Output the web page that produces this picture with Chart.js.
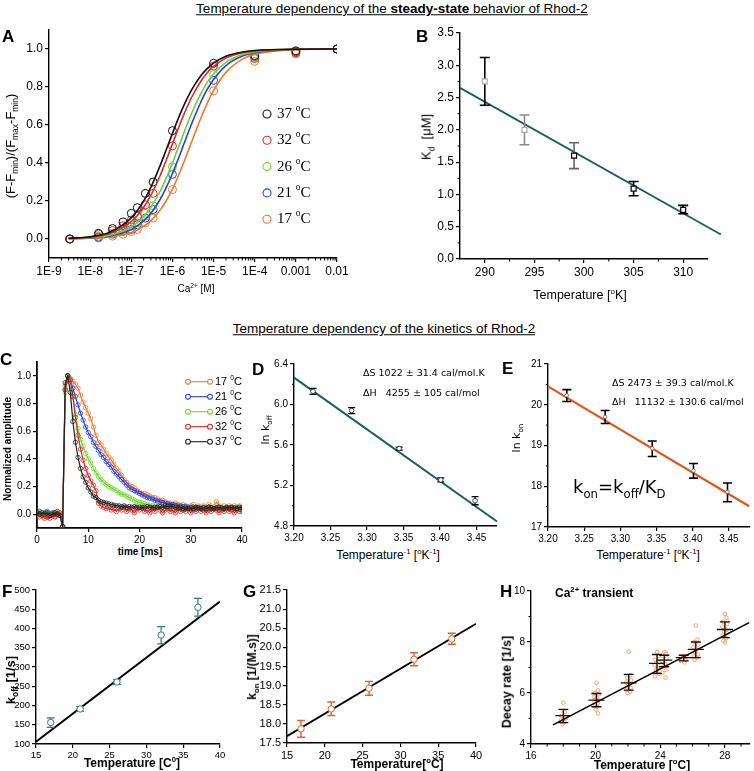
<!DOCTYPE html>
<html>
<head>
<meta charset="utf-8">
<script src="https://cdn.jsdelivr.net/npm/chart.js@4.4.0/dist/chart.umd.min.js"></script>
<style>
body { margin: 0; width: 754px; height: 771px; overflow: hidden; background: #fff; position: relative; font-family: "Liberation Sans", Arial, sans-serif; }
canvas { position: absolute; }
.t { position: absolute; white-space: nowrap; color: #000; line-height: 1; }
.c { transform: translate(-50%, -50%); }
.r { transform: translate(-50%, -50%) rotate(-90deg); }
.l { transform: translate(0, -50%); }
.lbl { font-weight: bold; font-size: 17px; }
sup, sub { font-size: 65%; line-height: 0; }
.cm { font-family: "DejaVu Sans", sans-serif; }
</style>
</head>
<body>
<script>
// ---------- data ----------

// A: steady-state titration
const tempsA = ['37', '32', '26', '21', '17']
const colorsA = ['#111111', '#e3262a', '#6fd12e', '#2a3fe0', '#f0782a']
const caConc = [3.2e-9, 1.6e-8, 3.5e-8, 6.3e-8, 1e-7, 1.4e-7, 2.2e-7, 3.4e-7, 1e-6, 1e-5, 1e-4, 1e-3, 1e-2]
const respA37 = [0.00, 0.03, 0.055, 0.09, 0.135, 0.165, 0.24, 0.30, 0.57, 0.925, 0.965, 0.99, 1.0]
const respA32 = [0.00, 0.025, 0.045, 0.07, 0.10, 0.12, 0.18, 0.24, 0.49, 0.91, 0.95, 0.98, 1.0]
const respA26 = [0.00, 0.015, 0.03, 0.05, 0.07, 0.085, 0.135, 0.175, 0.38, 0.865, 0.955, 0.99, 1.0]
const respA21 = [0.00, 0.01, 0.025, 0.04, 0.05, 0.075, 0.11, 0.155, 0.34, 0.835, 0.96, 0.985, 1.0]
const respA17 = [0.00, 0.005, 0.015, 0.025, 0.04, 0.05, 0.085, 0.11, 0.26, 0.78, 0.935, 0.975, 1.0]
const fitConc = [3e-9, 1e-8, 3e-8, 1e-7, 2e-7, 3e-7, 5e-7, 7e-7, 1e-6, 1.5e-6, 2e-6, 3e-6, 5e-6, 7e-6, 1e-5, 2e-5, 5e-5, 1e-4, 1e-3, 1e-2]
const fitA37 = [0.004, 0.012, 0.036, 0.111, 0.200, 0.273, 0.385, 0.467, 0.556, 0.652, 0.714, 0.789, 0.862, 0.897, 0.926, 0.962, 0.984, 0.992, 0.999, 1.0]
const fitA32 = [0.003, 0.010, 0.029, 0.091, 0.167, 0.231, 0.333, 0.412, 0.500, 0.600, 0.667, 0.750, 0.833, 0.875, 0.909, 0.952, 0.980, 0.990, 0.999, 1.0]
const fitA26 = [0.002, 0.007, 0.020, 0.063, 0.118, 0.167, 0.250, 0.318, 0.400, 0.500, 0.571, 0.667, 0.769, 0.824, 0.870, 0.930, 0.971, 0.985, 0.998, 1.0]
const fitA21 = [0.002, 0.005, 0.016, 0.050, 0.095, 0.136, 0.208, 0.269, 0.345, 0.441, 0.513, 0.612, 0.725, 0.787, 0.840, 0.913, 0.963, 0.981, 0.998, 1.0]
const fitA17 = [0.001, 0.004, 0.011, 0.034, 0.067, 0.097, 0.152, 0.200, 0.263, 0.349, 0.417, 0.517, 0.641, 0.714, 0.781, 0.877, 0.947, 0.973, 0.997, 1.0]
const ticksAx = [1e-9, 1e-8, 1e-7, 1e-6, 1e-5, 1e-4, 1e-3, 1e-2]
const labelsAx = ['1E-9', '1E-8', '1E-7', '1E-6', '1E-5', '1E-4', '0.001', '0.01']
const ticksAy = [0, 0.2, 0.4, 0.6, 0.8, 1.0]
const labelsAy = ['0.0', '0.2', '0.4', '0.6', '0.8', '1.0']

// B: Kd vs temperature
const kdTemp = [290, 294, 299, 305, 310]
const kdVal = [2.75, 2.0, 1.6, 1.09, 0.76]
const kdLo = [2.38, 1.77, 1.40, 0.98, 0.70]
const kdHi = [3.12, 2.23, 1.80, 1.20, 0.83]
const kdBarShade = ['#000000', '#8a8a8a', '#666666', '#000000', '#000000']
const kdBoxShade = ['#aaaaaa', '#aaaaaa', '#000000', '#000000', '#000000']
const kdFitT = [287.5, 313.8]
const kdFitV = [2.65, 0.38]
const ticksBx = [290, 295, 300, 305, 310]
const ticksBy = [0, 0.5, 1.0, 1.5, 2.0, 2.5, 3.0, 3.5]
const labelsBy = ['0.0', '0.5', '1.0', '1.5', '2.0', '2.5', '3.0', '3.5']

// C: normalized transients
const tempsC = ['17', '21', '26', '32', '37']
const colorsC = ['#f07a30', '#2a40e6', '#66dd22', '#e02424', '#222222']
const timeMs = [
  0, 0.5, 1, 1.5, 2, 2.5, 3, 3.5, 4, 4.5,
  5, 5.5, 6, 6.5, 7, 7.5, 8, 8.5, 9, 9.5,
  10, 10.5, 11, 11.5, 12, 12.5, 13, 13.5, 14, 14.5,
  15, 15.5, 16, 16.5, 17, 17.5, 18, 18.5, 19, 19.5,
  20, 20.5, 21, 21.5, 22, 22.5, 23, 23.5, 24, 24.5,
  25, 25.5, 26, 26.5, 27, 27.5, 28, 28.5, 29, 29.5,
  30, 30.5, 31, 31.5, 32, 32.5, 33, 33.5, 34, 34.5,
  35, 35.5, 36, 36.5, 37, 37.5, 38, 38.5, 39, 39.5,
  40]
const decay17 = [
  0.00, 0.01, -0.01, 0.00, -0.02, -0.01, 0.01, -0.02, 0.02, 0.00,
  -0.09, 0.92, 1.00, 0.98, 0.96, 0.94, 0.91, 0.86, 0.81, 0.77,
  0.73, 0.69, 0.63, 0.57, 0.52, 0.50, 0.47, 0.44, 0.41, 0.39,
  0.36, 0.33, 0.31, 0.28, 0.25, 0.23, 0.21, 0.20, 0.19, 0.17,
  0.16, 0.15, 0.15, 0.14, 0.13, 0.12, 0.12, 0.11, 0.10, 0.10,
  0.09, 0.08, 0.08, 0.07, 0.08, 0.07, 0.06, 0.07, 0.06, 0.05,
  0.06, 0.07, 0.05, 0.06, 0.05, 0.06, 0.05, 0.07, 0.06, 0.05,
  0.09, 0.06, 0.05, 0.06, 0.05, 0.06, 0.05, 0.06, 0.05, 0.06,
  0.05]
const decay21 = [
  0.01, 0.02, 0.00, 0.01, 0.02, 0.00, 0.01, 0.01, 0.00, -0.01,
  -0.09, 0.90, 1.00, 0.97, 0.91, 0.85, 0.79, 0.73, 0.68, 0.63,
  0.59, 0.56, 0.52, 0.49, 0.46, 0.43, 0.41, 0.38, 0.36, 0.34,
  0.31, 0.29, 0.27, 0.25, 0.23, 0.21, 0.19, 0.18, 0.17, 0.16,
  0.15, 0.14, 0.13, 0.12, 0.115, 0.11, 0.10, 0.095, 0.09, 0.085,
  0.08, 0.075, 0.07, 0.07, 0.065, 0.06, 0.06, 0.055, 0.055, 0.05,
  0.05, 0.05, 0.045, 0.05, 0.045, 0.05, 0.045, 0.05, 0.045, 0.04,
  0.045, 0.05, 0.045, 0.04, 0.045, 0.04, 0.045, 0.04, 0.045, 0.04,
  0.04]
const decay26 = [
  0.00, 0.01, 0.00, 0.00, 0.01, -0.01, 0.00, 0.01, -0.01, 0.00,
  -0.09, 0.88, 1.00, 0.97, 0.85, 0.72, 0.62, 0.54, 0.49, 0.44,
  0.40, 0.37, 0.33, 0.30, 0.27, 0.25, 0.23, 0.215, 0.20, 0.19,
  0.18, 0.17, 0.155, 0.145, 0.14, 0.13, 0.12, 0.11, 0.10, 0.09,
  0.085, 0.08, 0.075, 0.07, 0.065, 0.06, 0.06, 0.055, 0.05, 0.05,
  0.045, 0.05, 0.045, 0.04, 0.045, 0.04, 0.045, 0.04, 0.035, 0.04,
  0.045, 0.04, 0.035, 0.04, 0.045, 0.04, 0.035, 0.04, 0.04, 0.035,
  0.04, 0.045, 0.04, 0.035, 0.04, 0.035, 0.04, 0.04, 0.035, 0.04,
  0.04]
const decay32 = [
  0.00, -0.02, -0.01, -0.03, -0.02, -0.03, -0.01, -0.02, 0.02, 0.01,
  -0.09, 0.90, 1.00, 0.97, 0.85, 0.70, 0.57, 0.47, 0.39, 0.33,
  0.28, 0.24, 0.21, 0.17, 0.08, 0.06, 0.05, 0.04, 0.05, 0.03,
  0.04, 0.02, 0.04, 0.03, 0.05, 0.02, 0.04, 0.03, 0.01, 0.04,
  0.03, 0.05, 0.02, 0.03, 0.01, 0.04, 0.02, 0.05, 0.03, 0.01,
  0.03, 0.04, 0.02, 0.03, 0.01, 0.04, 0.02, 0.03, 0.02, 0.04,
  0.01, 0.03, 0.02, 0.04, 0.02, 0.03, 0.01, 0.03, 0.02, 0.04,
  0.03, 0.01, 0.03, 0.02, 0.04, 0.02, 0.03, 0.01, 0.03, 0.02,
  0.02]
const decay37 = [
  0.01, 0.00, 0.01, 0.00, 0.01, -0.01, 0.00, 0.01, 0.00, -0.01,
  -0.09, 0.95, 1.00, 0.88, 0.67, 0.52, 0.41, 0.33, 0.27, 0.23,
  0.19, 0.16, 0.13, 0.12, 0.10, 0.09, 0.085, 0.08, 0.075, 0.07,
  0.065, 0.06, 0.06, 0.055, 0.06, 0.05, 0.055, 0.05, 0.055, 0.05,
  0.05, 0.045, 0.05, 0.055, 0.05, 0.045, 0.05, 0.05, 0.055, 0.05,
  0.06, 0.055, 0.06, 0.055, 0.05, 0.045, 0.05, 0.04, 0.045, 0.04,
  0.045, 0.04, 0.05, 0.045, 0.04, 0.045, 0.04, 0.05, 0.045, 0.04,
  0.045, 0.05, 0.045, 0.04, 0.05, 0.045, 0.05, 0.045, 0.04, 0.05,
  0.045]
const ticksCx = [0, 10, 20, 30, 40]
const ticksCy = [0, 0.2, 0.4, 0.6, 0.8, 1.0]

// D / E: Arrhenius (1000/T)
const invT = [3.226, 3.279, 3.344, 3.401, 3.448]
const lnKoff = [6.13, 5.94, 5.565, 5.255, 5.05]
const lnKoffLo = [6.10, 5.91, 5.55, 5.235, 5.01]
const lnKoffHi = [6.16, 5.97, 5.58, 5.275, 5.09]
const koffFitX = [3.20, 3.478]
const koffFitY = [6.265, 4.845]
const lnKon = [20.23, 19.70, 18.93, 18.38, 17.86]
const lnKonLo = [20.08, 19.54, 18.73, 18.20, 17.62]
const lnKonHi = [20.37, 19.86, 19.11, 18.56, 18.08]
const konFitX = [3.20, 3.478]
const konFitY = [20.45, 17.51]
const ticksInvT = [3.20, 3.25, 3.30, 3.35, 3.40, 3.45]
const labelsInvT = ['3.20', '3.25', '3.30', '3.35', '3.40', '3.45']
const ticksDy = [4.8, 5.2, 5.6, 6.0, 6.4]
const labelsDy = ['4.8', '5.2', '5.6', '6.0', '6.4']
const ticksEy = [17, 18, 19, 20, 21]

// F / G: rates vs temperature (Celsius)
const tempC = [17, 21, 26, 32, 37]
const koff = [156, 191, 261, 383, 455]
const koffLo = [143, 185, 255, 360, 432]
const koffHi = [168, 197, 267, 405, 478]
const koffLinX = [15, 40]
const koffLinY = [106, 470]
const tempCg = [16.85, 20.85, 25.85, 31.8, 36.8]
const kon = [17.87, 18.39, 18.93, 19.69, 20.22]
const konLo = [17.65, 18.22, 18.75, 19.52, 20.08]
const konHi = [18.09, 18.57, 19.11, 19.86, 20.37]
const konLinX = [15, 40]
const konLinY = [17.68, 20.62]
const ticksFGx = [15, 20, 25, 30, 35, 40]
const ticksFy = [100, 150, 200, 250, 300, 350, 400, 450, 500]
const ticksGy = [17.5, 18.0, 18.5, 19.0, 19.5, 20.0, 20.5, 21.0, 21.5]
const labelsGy = ['17.5', '18.0', '18.5', '19.0', '19.5', '20.0', '20.5', '21.0', '21.5']

// H: cellular Ca2+ transient decay
const hGroupT = [18, 20.05, 22.05, 23.8, 24.25, 25.45, 26.2, 28.0]
const hMean = [5.11, 5.72, 6.40, 7.16, 7.29, 7.39, 7.71, 8.49]
const hSdLo = [4.84, 5.46, 6.11, 6.77, 7.03, 7.26, 7.39, 8.17]
const hSdHi = [5.36, 5.98, 6.73, 7.51, 7.48, 7.48, 8.00, 8.79]
const hDots = [
  [5.62, 5.25, 5.1, 5.0, 4.92, 4.85, 4.78, 5.05],
  [6.4, 6.1, 6.0, 5.95, 5.85, 5.8, 5.75, 5.7, 5.65, 5.6, 5.5, 5.45, 5.35, 5.2],
  [7.62, 6.7, 6.6, 6.5, 6.42, 6.35, 6.3, 6.2, 6.12, 6.05, 6.0],
  [7.6, 7.45, 7.3, 7.2, 7.1, 7.0, 6.9, 6.75, 6.65],
  [7.6, 7.55, 7.45, 7.35, 7.25, 7.15, 7.05, 6.9, 6.8, 6.6],
  [7.45, 7.4, 7.35, 7.3, 7.25, 7.2],
  [8.65, 8.1, 8.0, 7.9, 7.8, 7.7, 7.6, 7.5, 7.45, 7.4, 7.3],
  [9.1, 8.95, 8.8, 8.7, 8.6, 8.5, 8.4, 8.35, 8.25, 8.15, 8.05, 7.98]
]
const hJitter = [0, 0.1, -0.1, 0.15, -0.15, 0.05, -0.05, 0.12, -0.12, 0.08, -0.08, 0.02, -0.02, 0.1]
const hLinX = [17.36, 29.5]
const hLinY = [4.75, 8.76]
const ticksHx = [16, 20, 24, 28]
const ticksHy = [4, 6, 8, 10]

// ---------- helpers ----------
const SANS = '"Liberation Sans", Arial, sans-serif'
const SERIF = '"Liberation Serif", "Times New Roman", serif'

function drawRich(ctx, str, x, y, size, family) {
    ctx.textBaseline = 'middle'
    ctx.textAlign = 'left'
    str.split(/(\^\{[^}]*\})/).forEach(part => {
        if (!part) return
        let s = size, dy = 0, t = part
        if (part.startsWith('^{')) { t = part.slice(2, -1); s = size * 0.62; dy = -size * 0.36 }
        ctx.font = s + 'px ' + family
        ctx.fillText(t, x, y + dy)
        x += ctx.measureText(t).width
    })
}

const errorBars = {
    id: 'errorBars',
    beforeDatasetDraw(chart, args) {
        const ds = chart.data.datasets[args.index]
        if (!ds.errLo) return
        const ctx = chart.ctx, xs = chart.scales.x, ys = chart.scales.y
        ctx.save()
        ctx.lineWidth = ds.errWidth || 1
        ds.data.forEach((p, i) => {
            const x = xs.getPixelForValue(p.x)
            const lo = ys.getPixelForValue(ds.errLo[i])
            const hi = ys.getPixelForValue(ds.errHi[i])
            ctx.strokeStyle = Array.isArray(ds.errColor) ? ds.errColor[i] : ds.errColor
            ctx.beginPath()
            ctx.moveTo(x, lo); ctx.lineTo(x, hi)
            ctx.moveTo(x - ds.cap, lo); ctx.lineTo(x + ds.cap, lo)
            ctx.moveTo(x - ds.cap, hi); ctx.lineTo(x + ds.cap, hi)
            if (ds.meanHalf) {
                const m = ys.getPixelForValue(p.y)
                ctx.moveTo(x - ds.meanHalf, m); ctx.lineTo(x + ds.meanHalf, m)
            }
            ctx.stroke()
        })
        ctx.restore()
    }
}

const minorTicks = {
    id: 'minorTicks',
    afterDraw(chart, args, o) {
        if (!o.x && !o.y) return
        const ctx = chart.ctx, a = chart.chartArea, len = o.len || 2.5
        ctx.save()
        ctx.strokeStyle = '#000'
        ctx.lineWidth = 1
        ctx.beginPath()
        ;(o.x || []).forEach(v => {
            const x = chart.scales.x.getPixelForValue(v)
            ctx.moveTo(x, a.bottom); ctx.lineTo(x, a.bottom + len)
        })
        ;(o.y || []).forEach(v => {
            const y = chart.scales.y.getPixelForValue(v)
            ctx.moveTo(a.left, y); ctx.lineTo(a.left - len, y)
        })
        ctx.stroke()
        ctx.restore()
    }
}

// legend drawn at page positions
const symLegend = {
    id: 'symLegend',
    afterDraw(chart, args, o) {
        if (!o.labels) return
        const ctx = chart.ctx
        const ox = parseFloat(chart.canvas.style.left), oy = parseFloat(chart.canvas.style.top)
        o.labels.forEach((lab, i) => {
            const y = o.y + i * o.dy - oy
            const x = o.x - ox
            ctx.save()
            ctx.strokeStyle = o.colors[i]
            ctx.lineWidth = 1.1
            ctx.beginPath()
            if (o.line) {
                ctx.moveTo(x, y); ctx.lineTo(x + o.line, y); ctx.stroke()
                ctx.beginPath(); ctx.arc(x, y, o.r, 0, Math.PI * 2); ctx.fillStyle = '#fff'; ctx.fill(); ctx.stroke()
                ctx.beginPath(); ctx.arc(x + o.line, y, o.r, 0, Math.PI * 2); ctx.fill(); ctx.stroke()
            } else {
                ctx.arc(x, y, o.r, 0, Math.PI * 2); ctx.stroke()
            }
            ctx.fillStyle = '#000'
            drawRich(ctx, lab, o.tx - ox, y, o.size, o.family)
            ctx.restore()
        })
    }
}

function pts(xs, ys) { return xs.map((x, i) => ({ x: x, y: ys[i] })) }

function axis(type, min, max, ticks, labels, size, bw) {
    return {
        type: type, min: min, max: max,
        afterBuildTicks: s => { s.ticks = ticks.map(v => ({ value: v })) },
        ticks: { callback: (v, i) => labels[i], font: { size: size, family: SANS }, color: '#000', padding: 2, autoSkip: false, maxRotation: 0 },
        grid: { drawOnChartArea: false, tickLength: 4, color: '#000', lineWidth: 1.2 },
        border: { color: '#000', width: bw || 1.4 }
    }
}

function panel(area, pad, cfg) {
    const cv = document.createElement('canvas')
    const w = area.r - area.l + pad.l + pad.r
    const h = area.b - area.t + pad.t + pad.b
    cv.width = w
    cv.height = h
    Object.assign(cv.style, { left: (area.l - pad.l) + 'px', top: (area.t - pad.t) + 'px', width: w + 'px', height: h + 'px' })
    document.body.appendChild(cv)
    cfg.type = 'scatter'
    cfg.plugins = [errorBars, minorTicks, symLegend]
    const o = cfg.options
    o.responsive = false
    o.animation = false
    o.events = []
    o.layout = { padding: { top: pad.t, right: pad.r, left: 0, bottom: 0 } }
    o.plugins = Object.assign({ legend: { display: false }, tooltip: { enabled: false } }, o.plugins)
    o.scales.x.afterFit = s => { s.height = pad.b }
    o.scales.y.afterFit = s => { s.width = pad.l }
    return new Chart(cv, cfg)
}

function txt(html, x, y, cls, style) {
    const d = document.createElement('div')
    d.className = 't ' + cls
    d.innerHTML = html
    d.style.left = x + 'px'
    d.style.top = y + 'px'
    if (style) d.style.cssText += style
    document.body.appendChild(d)
}

// ---------- A ----------
const fitSetsA = [fitA37, fitA32, fitA26, fitA21, fitA17]
const respSetsA = [respA37, respA32, respA26, respA21, respA17]
const minorLog = []
for (let d = -9; d < -2; d++) for (let m = 2; m < 10; m++) minorLog.push(m * Math.pow(10, d))

panel({ l: 49, t: 30, r: 337, b: 258 }, { l: 45, t: 12, r: 18, b: 26 }, {
    data: {
        datasets: [
            ...tempsA.map((t, k) => ({ data: pts(fitConc, fitSetsA[k]), showLine: true, borderColor: colorsA[k], borderWidth: 1.6, pointRadius: 0, cubicInterpolationMode: 'monotone' })),
            ...tempsA.map((t, k) => ({ data: pts(caConc, respSetsA[k]), pointRadius: 4, pointBorderWidth: 1, pointBorderColor: colorsA[k], pointBackgroundColor: 'rgba(0,0,0,0)' }))
        ]
    },
    options: {
        scales: {
            x: axis('logarithmic', 1e-9, 1e-2, ticksAx, labelsAx, 12),
            y: axis('linear', -0.1, 1.1, ticksAy, labelsAy, 12)
        },
        plugins: {
            minorTicks: { x: minorLog, len: 2.5 },
            symLegend: { labels: tempsA.map(t => t + ' ^{o}C'), colors: colorsA, x: 267, tx: 277, y: 114, dy: 26.3, r: 4, size: 15, family: SERIF }
        }
    }
})

// ---------- B ----------
panel({ l: 460, t: 33, r: 708, b: 259 }, { l: 40, t: 12, r: 30, b: 24 }, {
    data: {
        datasets: [
            { data: pts(kdTemp, kdVal), errLo: kdLo, errHi: kdHi, errColor: kdBarShade, errWidth: 1.6, cap: 5, pointStyle: 'rect', pointRadius: 3.5, pointBorderWidth: 1.2, pointBorderColor: kdBoxShade, pointBackgroundColor: '#fff' },
            { data: pts(kdFitT, kdFitV), showLine: true, borderColor: '#17605c', borderWidth: 1.8, pointRadius: 0, clip: false }
        ]
    },
    options: {
        scales: {
            x: axis('linear', 287.5, 312.5, ticksBx, ticksBx.map(String), 12),
            y: axis('linear', 0, 3.5, ticksBy, labelsBy, 12)
        },
        plugins: {
            minorTicks: { x: [292.5, 297.5, 302.5, 307.5], y: [0.25, 0.75, 1.25, 1.75, 2.25, 2.75, 3.25], len: 2.5 }
        }
    }
})

// ---------- C ----------
const decaySets = [decay17, decay21, decay26, decay32, decay37]
const drawOrderC = [4, 3, 2, 1, 0]
panel({ l: 37, t: 362, r: 242, b: 528 }, { l: 33, t: 10, r: 10, b: 18 }, {
    data: {
        datasets: drawOrderC.map(k => ({
            data: pts(timeMs, decaySets[k]), showLine: true, borderColor: colorsC[k], borderWidth: 1.2,
            pointRadius: 2.2, pointBorderWidth: 0.8, pointBorderColor: colorsC[k], pointBackgroundColor: 'rgba(0,0,0,0)'
        }))
    },
    options: {
        scales: {
            x: axis('linear', 0, 40, ticksCx, ticksCx.map(String), 10, 1.8),
            y: axis('linear', -0.1, 1.1, ticksCy, labelsAy, 10, 1.8)
        },
        plugins: {
            symLegend: { labels: tempsC.map(t => t + ' ^{0}C'), colors: colorsC, line: 22, x: 188, tx: 215, y: 381.7, dy: 15, r: 2.4, size: 11, family: SANS }
        }
    }
})

// ---------- D ----------
panel({ l: 294, t: 364, r: 497, b: 526 }, { l: 28, t: 10, r: 8, b: 16 }, {
    data: {
        datasets: [
            { data: pts(invT, lnKoff), errLo: lnKoffLo, errHi: lnKoffHi, errColor: '#000', errWidth: 1.3, cap: 3.5, pointRadius: 2.3, pointBorderWidth: 0.9, pointBorderColor: '#333', pointBackgroundColor: '#fff' },
            { data: pts(koffFitX, koffFitY), showLine: true, borderColor: '#17605c', borderWidth: 2, pointRadius: 0, clip: false }
        ]
    },
    options: {
        scales: {
            x: axis('linear', 3.20, 3.478, ticksInvT, labelsInvT, 10),
            y: axis('linear', 4.8, 6.4, ticksDy, labelsDy, 10)
        },
        plugins: { minorTicks: { y: [5.0, 5.4, 5.8, 6.2], len: 2 } }
    }
})

// ---------- E ----------
panel({ l: 548, t: 364, r: 751, b: 527 }, { l: 24, t: 10, r: 3, b: 16 }, {
    data: {
        datasets: [
            { data: pts(invT, lnKon), errLo: lnKonLo, errHi: lnKonHi, errColor: '#000', errWidth: 1.6, cap: 4.5, pointRadius: 1.8, pointBorderWidth: 0.8, pointBorderColor: '#666', pointBackgroundColor: '#fff' },
            { data: pts(konFitX, konFitY), showLine: true, borderColor: '#e2561a', borderWidth: 2.2, pointRadius: 0, clip: false }
        ]
    },
    options: {
        scales: {
            x: axis('linear', 3.20, 3.478, ticksInvT, labelsInvT, 10),
            y: axis('linear', 17, 21, ticksEy, ticksEy.map(String), 10)
        },
        plugins: { minorTicks: { y: [17.5, 18.5, 19.5, 20.5], len: 2 } }
    }
})

// ---------- F ----------
panel({ l: 36, t: 590, r: 220, b: 744 }, { l: 30, t: 10, r: 12, b: 16 }, {
    data: {
        datasets: [
            { data: pts(tempC, koff), errLo: koffLo, errHi: koffHi, errColor: '#2f7d78', errWidth: 1.2, cap: 4, pointRadius: 3.2, pointBorderWidth: 1, pointBorderColor: '#2f7d78', pointBackgroundColor: '#fff' },
            { data: pts(koffLinX, koffLinY), showLine: true, borderColor: '#000', borderWidth: 2, pointRadius: 0 }
        ]
    },
    options: {
        scales: {
            x: axis('linear', 15, 40, ticksFGx, ticksFGx.map(String), 9.5),
            y: axis('linear', 100, 500, ticksFy, ticksFy.map(String), 9.5)
        },
        plugins: {}
    }
})

// ---------- G ----------
panel({ l: 287, t: 590, r: 476, b: 743 }, { l: 33, t: 10, r: 12, b: 16 }, {
    data: {
        datasets: [
            { data: pts(tempCg, kon), errLo: konLo, errHi: konHi, errColor: '#e0642a', errWidth: 1.4, cap: 4, pointRadius: 3.2, pointBorderWidth: 1, pointBorderColor: '#e0642a', pointBackgroundColor: '#fff' },
            { data: pts(konLinX, konLinY), showLine: true, borderColor: '#000', borderWidth: 1.8, pointRadius: 0 }
        ]
    },
    options: {
        scales: {
            x: axis('linear', 15, 40, ticksFGx, ticksFGx.map(String), 11),
            y: axis('linear', 17.5, 21.5, ticksGy, labelsGy, 11)
        },
        plugins: {}
    }
})

// ---------- H ----------
const hDotPts = []
hDots.forEach((ys, g) => ys.forEach((y, i) => hDotPts.push({ x: hGroupT[g] + hJitter[i], y: y })))
panel({ l: 531, t: 591, r: 753, b: 744 }, { l: 20, t: 10, r: 1, b: 16 }, {
    data: {
        datasets: [
            { data: pts(hGroupT, hMean), errLo: hSdLo, errHi: hSdHi, errColor: '#111', errWidth: 1.3, cap: 5, meanHalf: 8, pointRadius: 0 },
            { data: pts(hLinX, hLinY), showLine: true, borderColor: '#000', borderWidth: 1.6, pointRadius: 0, clip: false },
            { data: hDotPts, pointRadius: 1.8, pointBorderWidth: 0.9, pointBorderColor: '#f0995f', pointBackgroundColor: 'rgba(0,0,0,0)' }
        ]
    },
    options: {
        scales: {
            x: axis('linear', 16, 29.5, ticksHx, ticksHx.map(String), 10),
            y: axis('linear', 4, 10, ticksHy, ticksHy.map(String), 10)
        },
        plugins: { minorTicks: { x: [17, 18, 19, 21, 22, 23, 25, 26, 27, 29], y: [5, 7, 9], len: 2.5 } }
    }
})

// ---------- text ----------
txt('<u>Temperature dependency of the <b>steady-state</b> behavior of Rhod-2</u>', 392, 9, 'c', 'font-size:13.5px')
txt('<u>Temperature dependency of the kinetics of Rhod-2</u>', 384, 329, 'c', 'font-size:13.5px')

txt('A', 2, 28, 'lbl')
txt('B', 416, 28, 'lbl')
txt('C', 0, 351, 'lbl')
txt('D', 252, 361, 'lbl')
txt('E', 502, 360, 'lbl')
txt('F', 2, 583, 'lbl')
txt('G', 243, 583, 'lbl')
txt('H', 500, 583, 'lbl')

txt('(F-F<sub>min</sub>)/(F<sub>max</sub>-F<sub>min</sub>)', 10, 146, 'r', 'font-size:13px')
txt('Ca<sup>2+</sup> [M]', 196, 289, 'c', 'font-size:10px')
txt('K<sub>d</sub>&nbsp; [&mu;M]', 426, 137, 'r', 'font-size:13px')
txt('Temperature [<sup>o</sup>K]', 580, 295, 'c', 'font-size:12.5px')

txt('Normalized amplitude', 8, 449, 'r', 'font-size:10px;font-weight:bold')
txt('time [ms]', 140, 552, 'c', 'font-size:10px;font-weight:bold')
txt('ln k<sub>off</sub>', 265, 430, 'r cm', 'font-size:11px')
txt('Temperature<sup>-1</sup> [<sup>o</sup>K<sup>-1</sup>]', 388, 555, 'c', 'font-size:12px')
txt('&Delta;S 1022 &plusmn; 31.4 cal/mol.K', 363, 373, 'l cm', 'font-size:9.5px')
txt('&Delta;H&nbsp;&nbsp; 4255 &plusmn; 105 cal/mol', 363, 393, 'l cm', 'font-size:9.5px')
txt('ln k<sub>on</sub>', 516, 438, 'r cm', 'font-size:11px')
txt('Temperature<sup>-1</sup> [<sup>o</sup>K<sup>-1</sup>]', 648, 555, 'c', 'font-size:12px')
txt('&Delta;S 2473 &plusmn; 39.3 cal/mol.K', 612, 383, 'l cm', 'font-size:9.5px')
txt('&Delta;H&nbsp;&nbsp; 11132 &plusmn; 130.6 cal/mol', 612, 402, 'l cm', 'font-size:9.5px')
txt('k<sub>on</sub>=k<sub>off</sub>/K<sub>D</sub>', 573, 487, 'l cm', 'font-size:18px')

txt('k<sub>off</sub> [1/s]', 10, 680, 'r', 'font-size:13px;font-weight:bold')
txt('Temperature [C<sup>0</sup>]', 132, 763, 'c', 'font-size:12px;font-weight:bold')
txt('k<sub>on</sub> [1/(M.s)]', 252, 667, 'r', 'font-size:12px;font-weight:bold')
txt('Temperature[<sup>o</sup>C]', 397, 764, 'c', 'font-size:12px;font-weight:bold')
txt('Decay rate [1/s]', 507, 682, 'r', 'font-size:12.5px;font-weight:bold')
txt('Temperature [<sup>o</sup>C]', 642, 765, 'c', 'font-size:12px;font-weight:bold')
txt('Ca<sup>2+</sup> transient', 555, 593, 'l', 'font-size:12px;font-weight:bold')
</script>
</body>
</html>
